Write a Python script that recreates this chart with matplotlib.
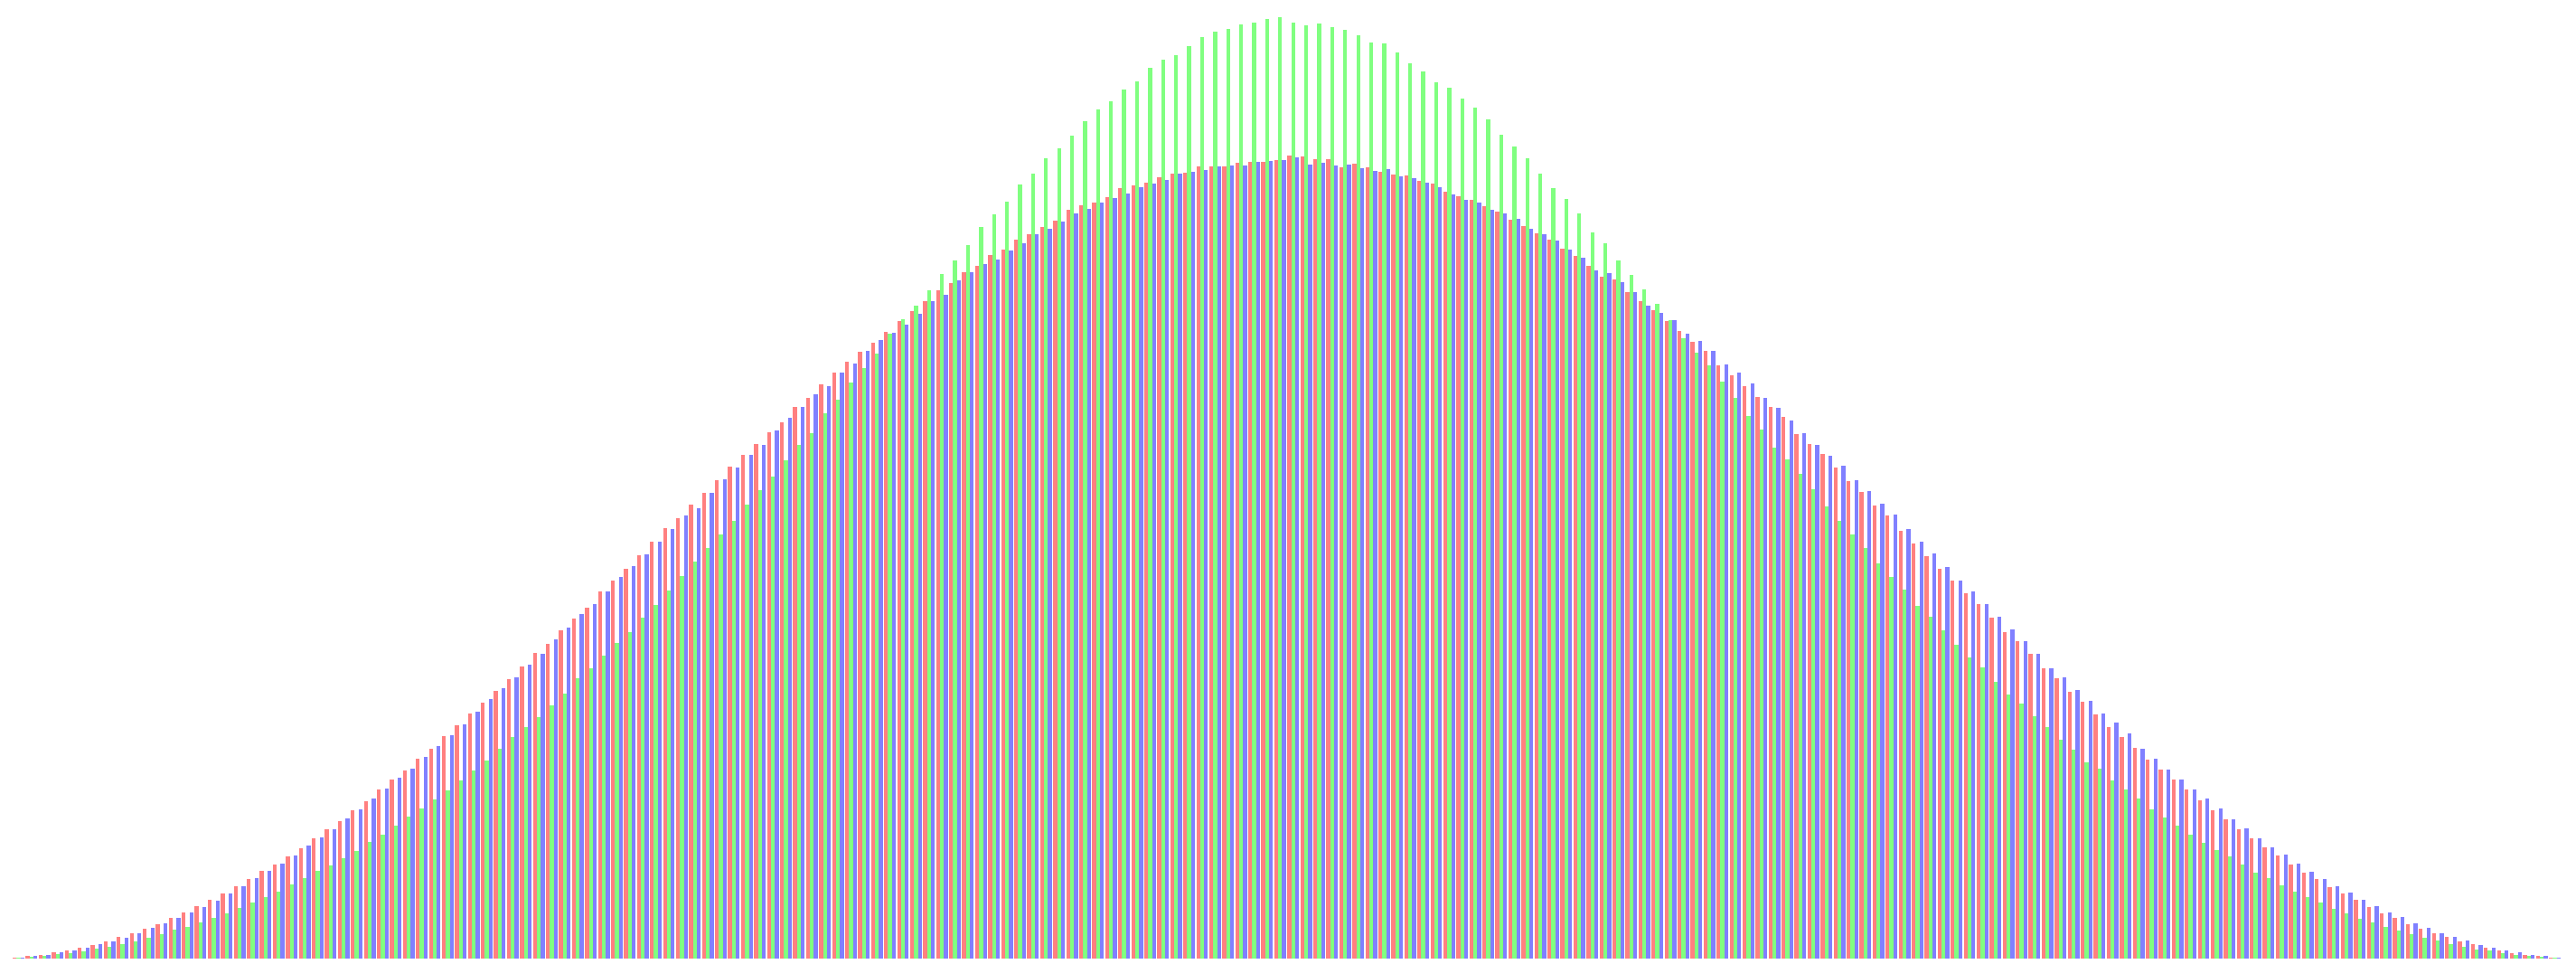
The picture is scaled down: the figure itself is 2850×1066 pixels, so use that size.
import numpy as np
import matplotlib
matplotlib.use("Agg")
import matplotlib.pyplot as plt

# bar heights, one value per group (196 groups)
red = [
    1, 3, 4, 7, 9, 12, 15, 19, 24, 28,
    33, 38, 45, 51, 58, 65, 72, 80, 88, 97,
    104, 113, 122, 133, 143, 152, 164, 174, 187, 198,
    208, 221, 232, 246, 258, 271, 283, 296, 309, 323,
    338, 348, 363, 376, 388, 406, 418, 431, 446, 461,
    476, 487, 502, 515, 529, 544, 557, 569, 582, 593,
    610, 620, 635, 648, 660, 671, 681, 693, 705, 716,
    727, 739, 747, 759, 766, 778, 784, 795, 801, 809,
    816, 828, 833, 836, 842, 852, 855, 858, 864, 868,
    869, 876, 876, 876, 880, 881, 881, 883, 888, 887,
    884, 884, 875, 879, 875, 870, 867, 866, 860, 857,
    848, 843, 839, 832, 826, 817, 810, 802, 795, 785,
    777, 766, 754, 751, 737, 727, 717, 705, 694, 682,
    672, 656, 645, 633, 621, 610, 599, 580, 569, 558,
    543, 528, 516, 501, 490, 473, 459, 445, 431, 418,
    404, 392, 377, 361, 351, 337, 321, 310, 295, 284,
    270, 256, 245, 233, 220, 209, 198, 187, 175, 164,
    154, 143, 133, 123, 114, 104, 95, 88, 79, 72,
    65, 57, 50, 45, 38, 33, 28, 24, 19, 16,
    12, 9, 6, 4, 3, 1,
]
green = [
    1, 2, 3, 5, 6, 8, 11, 13, 16, 19,
    23, 27, 32, 35, 40, 45, 50, 56, 62, 68,
    74, 82, 89, 97, 103, 111, 119, 129, 137, 147,
    157, 166, 176, 186, 197, 208, 219, 232, 245, 256,
    267, 280, 293, 310, 321, 335, 349, 361, 377, 391,
    407, 423, 439, 454, 469, 484, 502, 518, 533, 551,
    568, 581, 603, 618, 637, 653, 669, 691, 707, 722,
    739, 757, 772, 789, 809, 823, 837, 856, 868, 885,
    896, 910, 926, 939, 948, 961, 970, 985, 994, 999,
    1009, 1019, 1025, 1028, 1033, 1035, 1039, 1041, 1035, 1032,
    1034, 1030, 1027, 1021, 1013, 1012, 1002, 990, 981, 969,
    963, 951, 941, 928, 911, 898, 885, 868, 852, 840,
    824, 803, 791, 772, 756, 740, 724, 706, 686, 670,
    656, 638, 620, 600, 585, 565, 552, 536, 519, 500,
    484, 469, 454, 437, 422, 408, 390, 378, 363, 347,
    333, 322, 306, 292, 282, 268, 256, 242, 231, 217,
    210, 197, 187, 177, 165, 156, 147, 137, 128, 120,
    113, 104, 95, 89, 81, 74, 68, 62, 55, 50,
    44, 40, 35, 31, 27, 23, 20, 16, 13, 10,
    9, 6, 4, 3, 2, 1,
]
blue = [
    1, 3, 4, 7, 9, 12, 16, 19, 23, 28,
    34, 39, 45, 51, 57, 64, 72, 80, 89, 97,
    105, 114, 125, 134, 143, 155, 165, 177, 188, 200,
    210, 223, 235, 247, 259, 273, 287, 299, 311, 325,
    337, 353, 366, 381, 392, 406, 422, 434, 447, 461,
    475, 490, 498, 515, 530, 543, 557, 568, 584, 598,
    610, 624, 633, 648, 658, 672, 684, 692, 701, 713,
    727, 734, 750, 759, 768, 773, 783, 791, 801, 807,
    815, 824, 829, 836, 841, 846, 853, 857, 861, 868,
    870, 872, 876, 877, 877, 881, 882, 883, 886, 878,
    880, 877, 878, 874, 871, 873, 865, 863, 858, 853,
    845, 839, 836, 828, 824, 818, 807, 801, 794, 784,
    775, 761, 758, 748, 737, 722, 714, 706, 691, 683,
    672, 657, 648, 636, 620, 609, 595, 581, 568, 556,
    545, 529, 517, 503, 491, 475, 461, 448, 433, 418,
    406, 392, 378, 364, 351, 337, 321, 311, 297, 285,
    271, 261, 249, 232, 221, 209, 198, 187, 177, 166,
    154, 144, 133, 123, 115, 105, 96, 88, 80, 73,
    65, 58, 51, 46, 39, 34, 28, 24, 20, 15,
    12, 9, 7, 4, 3, 1,
]

n = min(len(red), len(green), len(blue))
x = np.arange(n)
w = 0.3  # three bars side by side, small gap between groups

fig = plt.figure(figsize=(28.5, 10.66), dpi=100)
ax = fig.add_axes([0, 0, 1, 1])
ax.bar(x - w, red[:n], width=w, color='#ff8080', linewidth=0, antialiased=False)
ax.bar(x, green[:n], width=w, color='#80ff80', linewidth=0, antialiased=False)
ax.bar(x + w, blue[:n], width=w, color='#8080ff', linewidth=0, antialiased=False)

ax.set_xlim(-1.425, 196.63)
ax.set_ylim(-6, 1060)
ax.axis('off')

fig.savefig('out.png', dpi=100, facecolor='white')
